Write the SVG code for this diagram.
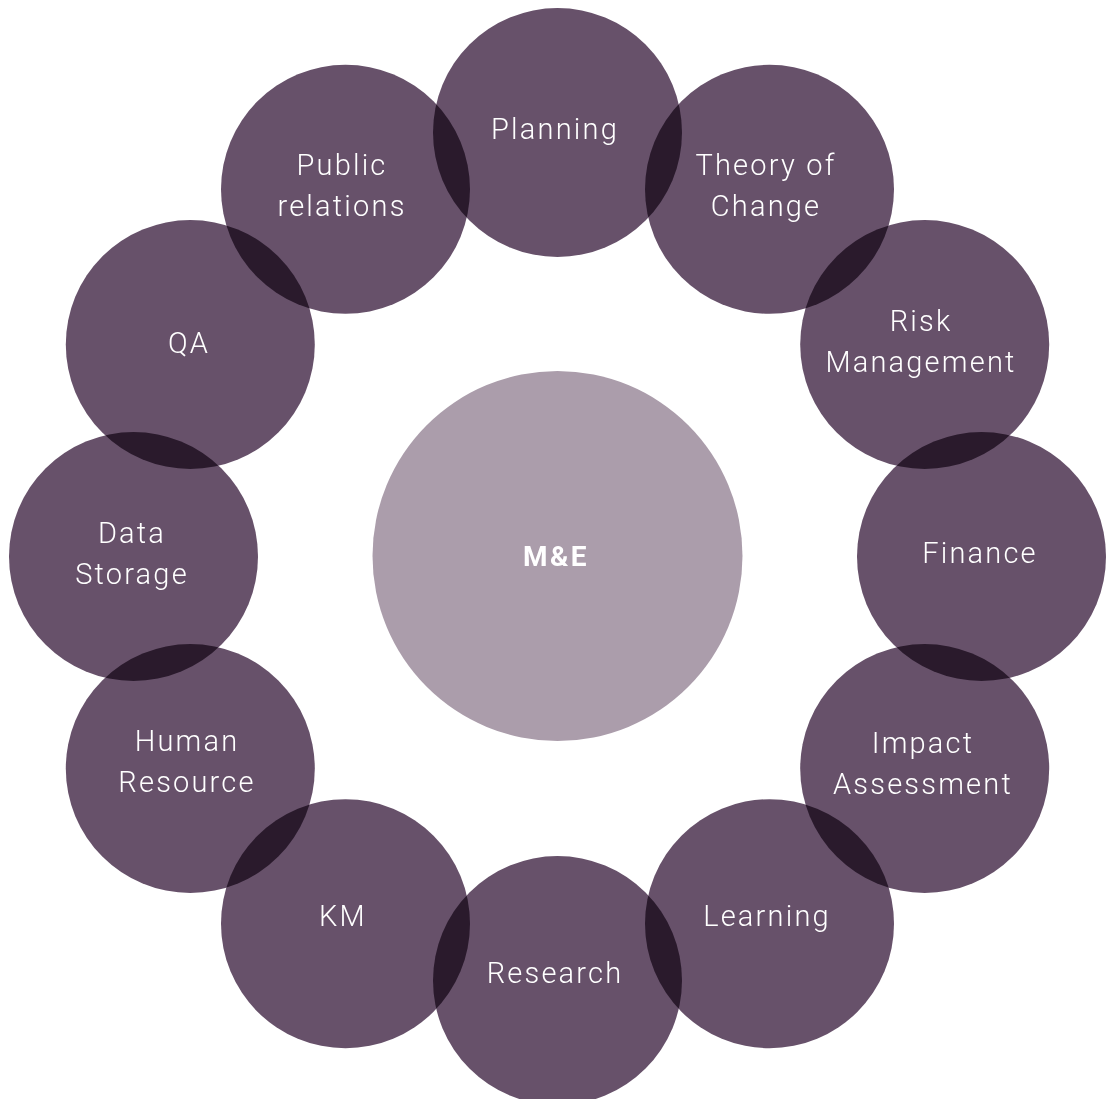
<svg xmlns="http://www.w3.org/2000/svg" width="1109" height="1099" viewBox="0 0 1109 1099">
<style>
.n{fill:#67516a;mix-blend-mode:multiply}
.c{fill:#ab9dab}
text{font-family:"Roboto","DejaVu Sans",sans-serif;font-size:29px;fill:#ffffff;text-anchor:middle;letter-spacing:2.2px;font-weight:300}
.b{font-weight:700;letter-spacing:2.5px;font-size:28px}
</style>
<rect width="1109" height="1099" fill="#ffffff"/>
<g id="ring" style="isolation:isolate">
<g id="n-planning"><circle class="n" cx="557.5" cy="132.5" r="124.5"/></g>
<g id="n-toc"><circle class="n" cx="769.5" cy="189.3" r="124.5"/></g>
<g id="n-risk"><circle class="n" cx="924.7" cy="344.5" r="124.5"/></g>
<g id="n-finance"><circle class="n" cx="981.5" cy="556.5" r="124.5"/></g>
<g id="n-impact"><circle class="n" cx="924.7" cy="768.5" r="124.5"/></g>
<g id="n-learning"><circle class="n" cx="769.5" cy="923.7" r="124.5"/></g>
<g id="n-research"><circle class="n" cx="557.5" cy="980.5" r="124.5"/></g>
<g id="n-km"><circle class="n" cx="345.5" cy="923.7" r="124.5"/></g>
<g id="n-hr"><circle class="n" cx="190.3" cy="768.5" r="124.5"/></g>
<g id="n-data"><circle class="n" cx="133.5" cy="556.5" r="124.5"/></g>
<g id="n-qa"><circle class="n" cx="190.3" cy="344.5" r="124.5"/></g>
<g id="n-pr"><circle class="n" cx="345.5" cy="189.3" r="124.5"/></g>
</g>
<g id="n-center"><circle class="c" cx="557.5" cy="556" r="185"/><text class="b" x="556" y="566">M&amp;E</text></g>
<g id="labels">
<text x="555" y="139">Planning</text>
<text x="766" y="175">Theory of</text>
<text x="766" y="216">Change</text>
<text x="921" y="331">Risk</text>
<text x="921" y="372">Management</text>
<text x="980" y="563">Finance</text>
<text x="923" y="753">Impact</text>
<text x="923" y="794">Assessment</text>
<text x="767" y="926">Learning</text>
<text x="555" y="983">Research</text>
<text x="343" y="926">KM</text>
<text x="187" y="751">Human</text>
<text x="187" y="792">Resource</text>
<text x="132" y="543">Data</text>
<text x="132" y="584">Storage</text>
<text x="189" y="353">QA</text>
<text x="342" y="175">Public</text>
<text x="342" y="216">relations</text>
</g>
<g id="connectors"></g>
</svg>
